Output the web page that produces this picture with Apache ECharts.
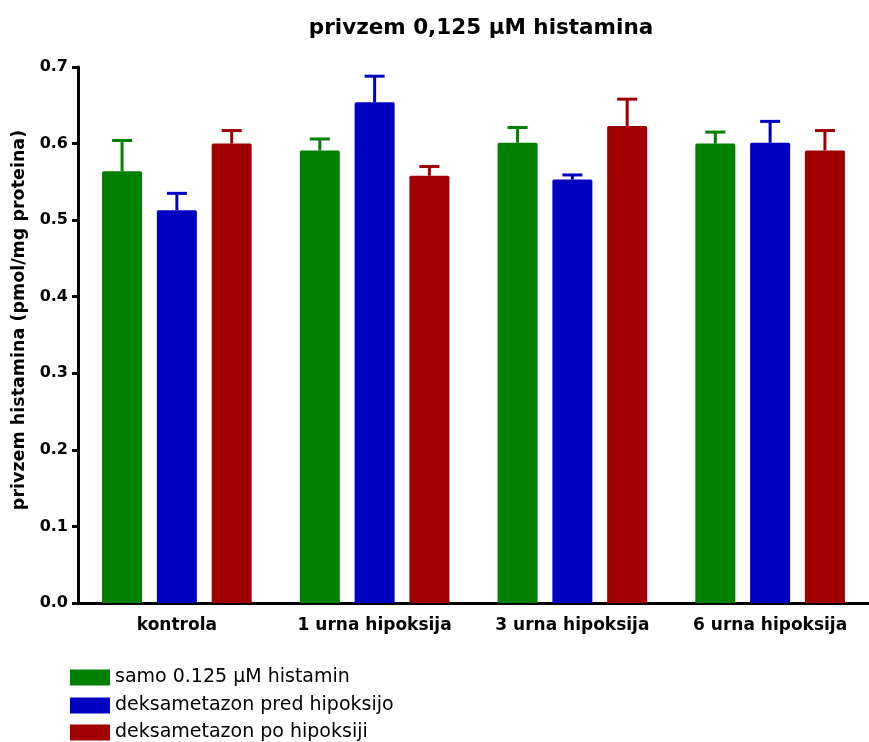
<!DOCTYPE html>
<html>
<head>
<meta charset="utf-8">
<script src="https://cdn.jsdelivr.net/npm/echarts@6/dist/echarts.min.js"></script>
<style>
  html, body { margin: 0; padding: 0; background: #fff; }
  #chart { width: 869px; height: 742px; }
</style>
</head>
<body>
<div id="chart"></div>
<script>
// Histamine uptake (pmol/mg protein), mean and SEM per group
const categories = ['kontrola', '1 urna hipoksija', '3 urna hipoksija', '6 urna hipoksija'];
const seriesNames = ['samo 0.125 \u00b5M histamin', 'deksametazon pred hipoksijo', 'deksametazon po hipoksiji'];

const histaminOnly = [0.564, 0.591, 0.601, 0.600];
const dexBefore    = [0.513, 0.654, 0.553, 0.601];
const dexAfter     = [0.600, 0.558, 0.623, 0.591];

const histaminOnlyErr = [0.040, 0.015, 0.020, 0.015];
const dexBeforeErr    = [0.022, 0.034, 0.006, 0.028];
const dexAfterErr     = [0.017, 0.012, 0.035, 0.026];

const yTicks = [0.0, 0.1, 0.2, 0.3, 0.4, 0.5, 0.6, 0.7];

const colors = ['#008000', '#0000c0', '#a00000'];
const means = [histaminOnly, dexBefore, dexAfter];
const errs = [histaminOnlyErr, dexBeforeErr, dexAfterErr];

const BAR_W = 40;
const BAR_GAP = 0.37;
const FONT = '"DejaVu Sans", Verdana, sans-serif';

const chart = echarts.init(document.getElementById('chart'), null, { renderer: 'canvas' });

const barSeries = means.map((vals, i) => ({
  name: seriesNames[i],
  type: 'bar',
  data: vals,
  barWidth: BAR_W,
  barGap: (BAR_GAP * 100) + '%',
  itemStyle: { color: colors[i], borderRadius: [1.5, 1.5, 0, 0] },
  z: 2
}));

// Upper error bars (stem + cap), placed over each bar of the group
const errorSeries = means.map((vals, i) => ({
  name: seriesNames[i],
  type: 'custom',
  z: 3,
  data: vals.map((v, k) => [k, v, v + errs[i][k]]),
  renderItem: function (params, api) {
    const k = api.value(0);
    const top = api.coord([k, api.value(1)]);
    const hi = api.coord([k, api.value(2)]);
    const offset = (i - 1) * BAR_W * (1 + BAR_GAP);
    const x = top[0] + offset;
    const halfCap = 10;
    const style = { stroke: colors[i], lineWidth: 3 };
    return {
      type: 'group',
      children: [
        { type: 'line', shape: { x1: x, y1: top[1], x2: x, y2: hi[1] }, style: style },
        { type: 'line', shape: { x1: x - halfCap, y1: hi[1], x2: x + halfCap, y2: hi[1] }, style: style }
      ]
    };
  }
}));

// One stacked legend row per series
const legendTops = [668, 696, 723];
const legends = seriesNames.map((name, i) => ({
  orient: 'vertical',
  left: 70,
  top: legendTops[i],
  padding: 0,
  itemWidth: 40,
  itemHeight: 16,
  icon: 'rect',
  data: [name],
  textStyle: { fontFamily: FONT, fontSize: 19, color: '#000' }
}));

chart.setOption({
  animation: false,
  backgroundColor: '#ffffff',
  title: {
    text: 'privzem 0,125 \u00b5M histamina',
    left: 476,
    textAlign: 'center',
    top: 12,
    textStyle: { fontFamily: FONT, fontWeight: 'bold', fontSize: 21.5, color: '#000' }
  },
  legend: legends,
  grid: { left: 78, top: 67, width: 797, height: 536, containLabel: false },
  xAxis: {
    type: 'category',
    data: categories,
    boundaryGap: true,
    axisLine: { lineStyle: { color: '#000', width: 3 } },
    axisTick: { alignWithLabel: true, length: 6, lineStyle: { color: '#000', width: 3 } },
    axisLabel: { interval: 0, margin: 14, fontFamily: FONT, fontWeight: 'bold', fontSize: 17, color: '#000' }
  },
  yAxis: {
    type: 'value',
    min: yTicks[0],
    max: yTicks[yTicks.length - 1],
    interval: 0.1,
    name: 'privzem histamina (pmol/mg proteina)',
    nameLocation: 'middle',
    nameGap: 48,
    nameTextStyle: { fontFamily: FONT, fontWeight: 'bold', fontSize: 17.5, color: '#000', padding: [0, 0, 0, 30] },
    axisLine: { show: true, lineStyle: { color: '#000', width: 3 } },
    axisTick: { show: true, length: 6, lineStyle: { color: '#000', width: 3 } },
    splitLine: { show: false },
    axisLabel: {
      margin: 10,
      fontFamily: FONT,
      fontWeight: 'bold',
      fontSize: 16,
      color: '#000',
      formatter: v => v.toFixed(1)
    }
  },
  series: barSeries.concat(errorSeries)
});
</script>
</body>
</html>
